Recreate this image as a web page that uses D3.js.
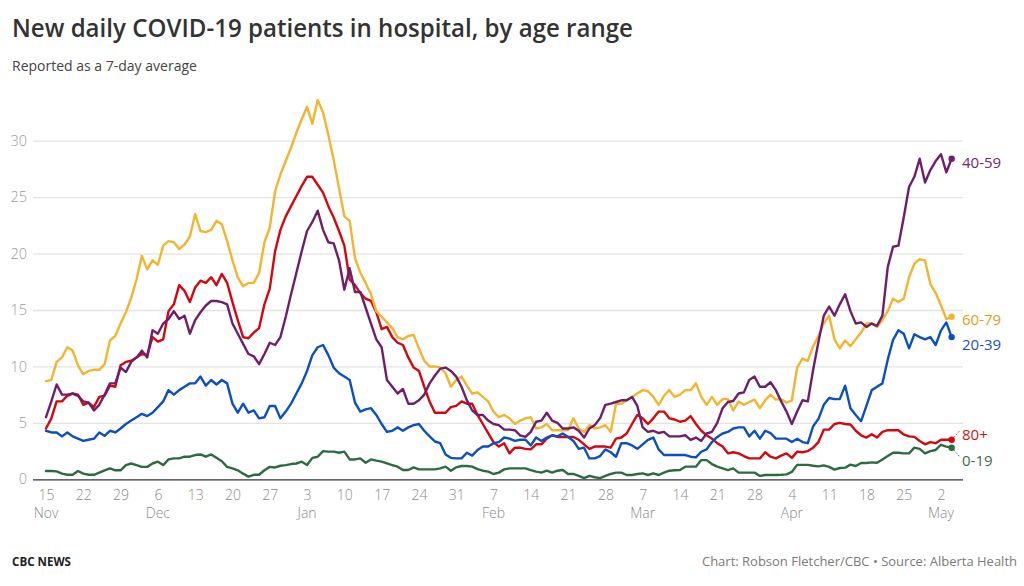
<!DOCTYPE html>
<html><head><meta charset="utf-8">
<script src="https://cdn.jsdelivr.net/npm/d3@7"></script>
<style>
body{margin:0;background:#fff;}
svg{display:block;font-family:"Open Sans",sans-serif;}
</style></head><body>
<svg id="chart" width="1024" height="586"></svg>
<script>
// ---------- DATA ----------
const startDate = "2020-11-15"; // first daily value (7-day average)
const tickLabels = ["15","22","29","6","13","20","27","3","10","17","24","31","7","14","21","28","7","14","21","28","4","11","18","25","2"];
const monthLabels = ["Nov","","","Dec","","","","Jan","","","","","Feb","","","","Mar","","","","Apr","","","","May"];
const yTicks = [0,5,10,15,20,25,30];
const seriesNames = ["0-19","80+","20-39","60-79","40-59"];

const age60_79 = [8.7,8.8,10.4,10.8,11.7,11.4,10.1,9.3,9.6,9.7,9.7,10.2,12.3,12.7,13.8,14.8,16.1,17.7,19.8,18.6,19.4,19.0,20.7,21.1,21.0,20.4,20.8,21.5,23.5,22.0,
21.9,22.1,22.9,22.6,21.1,19.4,17.9,17.1,17.4,17.4,18.3,21.0,22.3,25.5,27.0,28.2,29.4,30.7,31.9,33.0,31.5,33.6,32.5,30.5,28.3,25.8,23.3,22.9,19.6,18.3,
17.4,16.4,14.9,14.4,13.9,13.4,12.6,12.4,12.7,12.8,11.6,10.5,10.0,10.0,9.9,9.4,8.2,8.8,9.1,8.3,7.6,7.7,7.3,6.9,6.0,5.5,5.7,5.4,4.9,5.2,
5.4,5.5,4.5,4.6,4.9,4.35,4.35,4.35,4.35,5.4,4.5,4.2,4.8,4.5,4.6,4.8,4.2,6.7,6.7,7.0,7.3,7.6,7.9,7.8,7.3,6.6,7.4,7.9,7.3,7.5,
7.9,7.9,8.5,7.3,6.6,7.3,6.6,7.1,7.1,6.1,6.9,6.6,6.85,7.06,6.3,7.0,7.5,7.06,7.1,6.8,7.0,9.9,10.7,10.5,11.8,12.7,13.8,14.5,12.4,11.6,
12.3,11.8,12.4,13.0,13.8,13.8,13.5,14.1,14.9,16.0,15.7,16.0,17.9,19.1,19.5,19.4,17.3,16.5,15.4,14.2,14.4];

const age80plus = [4.5,5.4,6.9,6.9,7.4,7.6,7.5,6.6,6.8,6.4,7.3,7.4,8.3,8.2,10.1,10.4,10.5,10.8,11.1,11.0,12.6,12.2,12.4,14.9,15.5,17.2,16.7,15.7,17.0,17.6,
17.4,17.9,17.2,18.2,17.4,15.7,14.1,12.6,12.5,13.0,13.4,15.5,16.9,20.2,22.1,23.3,24.2,25.1,26.0,26.8,26.8,26.1,25.4,24.2,23.2,22.0,20.7,17.7,17.2,16.5,
16.0,15.8,14.8,13.3,13.5,12.6,12.1,11.9,10.8,9.9,9.6,8.2,6.9,5.9,5.9,5.9,6.4,6.5,6.9,6.7,6.7,5.7,4.9,4.1,3.3,2.9,3.2,2.3,2.8,2.8,
2.7,2.65,3.1,3.1,3.6,3.9,3.75,3.75,3.75,3.75,3.5,3.1,2.7,2.9,2.9,2.9,2.8,3.6,3.7,4.06,4.9,5.7,5.4,4.9,5.4,6.0,6.0,5.4,5.3,5.1,
5.2,5.6,4.9,4.3,3.9,3.6,3.2,2.9,2.3,2.4,2.3,2.06,1.85,1.85,1.85,2.4,2.0,1.85,2.1,2.3,1.9,2.45,2.4,2.5,2.8,3.3,4.4,4.4,4.9,5.0,
4.9,4.85,4.3,3.9,3.7,4.0,3.7,4.2,4.35,4.35,4.35,3.97,3.8,3.76,3.4,3.1,3.3,3.2,3.5,3.5,3.5];

const age40_59 = [5.5,6.9,8.4,7.5,7.5,7.6,7.4,6.9,6.8,6.1,6.6,7.5,8.5,8.5,9.9,9.5,10.4,10.8,11.4,10.8,13.2,12.9,13.8,14.2,14.9,14.2,14.5,12.9,14.1,14.8,
15.4,15.8,15.8,15.7,15.5,13.8,12.9,12.0,11.1,10.9,10.2,11.1,12.1,11.9,12.6,14.4,16.4,18.3,20.2,22.0,22.8,23.8,22.1,21.0,20.9,19.4,16.8,18.7,16.6,16.6,
15.2,13.8,12.4,11.7,8.8,8.2,7.6,8.0,6.7,6.7,7.0,7.5,8.5,9.2,9.8,9.9,9.6,9.1,8.2,7.0,6.1,5.7,5.7,5.2,4.9,4.8,4.4,4.4,4.35,3.9,
3.75,4.2,5.1,5.2,5.9,5.2,5.0,4.5,4.5,4.6,4.3,3.7,4.5,4.8,5.4,6.6,6.7,6.85,7.0,7.0,7.3,6.5,4.6,4.2,4.3,4.1,4.2,3.8,3.8,3.8,
3.9,3.5,3.7,3.4,4.06,4.2,5.0,6.3,6.85,6.94,7.6,7.7,8.8,9.1,8.2,8.2,8.6,7.9,6.9,6.0,4.9,6.0,7.0,6.9,9.7,12.2,14.5,15.3,14.5,15.5,
16.4,14.9,13.8,13.9,13.5,13.8,13.6,14.5,18.8,20.6,20.7,23.2,25.9,26.8,28.4,26.3,27.4,28.2,28.8,27.2,28.4];

const age20_39 = [4.3,4.15,4.15,3.8,4.15,3.8,3.6,3.4,3.5,3.6,4.15,3.85,4.3,4.15,4.5,4.9,5.2,5.5,5.8,5.6,5.9,6.4,6.9,7.9,7.5,7.9,8.2,8.5,8.5,9.1,
8.3,8.8,8.4,8.8,8.5,6.7,5.9,6.7,5.9,6.1,5.4,5.5,6.5,6.5,5.4,6.0,6.7,7.6,8.5,9.6,11.0,11.7,11.9,11.0,9.9,9.4,9.1,8.8,6.8,6.0,
6.2,6.3,5.7,4.9,4.2,4.3,4.6,4.3,4.6,4.8,4.9,4.3,3.8,3.35,3.2,2.2,1.9,1.85,1.85,2.35,2.1,2.6,2.9,2.9,3.2,3.3,3.7,3.6,3.4,3.5,
3.5,3.0,3.7,3.4,3.7,3.9,3.8,4.06,3.75,3.4,2.7,2.8,1.85,1.85,2.06,2.65,2.4,2.0,3.2,3.2,3.0,2.7,3.1,3.5,3.7,2.65,2.15,2.15,2.15,2.15,
2.15,2.0,1.94,2.44,2.65,3.3,3.75,4.06,4.2,4.5,4.6,4.6,3.8,4.3,3.6,4.3,4.1,3.6,3.6,3.6,3.3,3.6,3.3,3.2,4.7,5.35,6.6,7.2,7.1,7.1,
8.3,6.3,5.7,5.15,6.5,7.9,8.2,8.5,10.6,12.35,13.2,12.9,11.6,12.85,12.6,12.4,12.6,11.9,13.2,13.9,12.6];

const age0_19 = [0.74,0.74,0.7,0.5,0.4,0.4,0.74,0.5,0.4,0.4,0.6,0.8,0.97,0.8,0.8,1.26,1.4,1.26,1.1,1.1,1.4,1.56,1.26,1.76,1.85,1.85,2.0,2.0,2.15,2.2,
2.0,2.2,1.9,1.6,1.1,0.97,0.8,0.5,0.24,0.4,0.4,0.8,1.1,1.05,1.2,1.26,1.35,1.4,1.56,1.26,1.9,2.0,2.5,2.45,2.45,2.35,2.45,1.76,1.76,1.85,
1.47,1.76,1.65,1.56,1.41,1.26,1.12,0.82,0.82,1.06,0.88,0.88,0.88,0.88,0.97,1.12,0.76,1.06,1.18,1.18,1.12,0.91,0.76,0.68,0.47,0.59,0.88,0.97,0.97,0.97,
0.97,0.82,0.68,0.59,0.76,0.59,0.76,0.82,0.47,0.47,0.3,0.1,0.3,0.18,0.1,0.3,0.47,0.59,0.59,0.38,0.38,0.47,0.53,0.38,0.53,0.38,0.59,0.76,0.8,0.82,
1.12,1.12,1.12,1.7,1.7,1.35,1.12,0.97,0.82,0.97,0.59,0.59,0.59,0.59,0.3,0.38,0.38,0.38,0.4,0.44,0.65,1.28,1.28,1.28,1.2,1.15,1.23,1.1,0.86,1.0,
1.03,1.3,1.18,1.45,1.45,1.5,1.47,1.76,2.06,2.35,2.35,2.3,2.3,2.8,2.7,2.3,2.5,2.6,3.06,2.9,2.8];

// ---------- STYLE ----------
const lineColors = {"0-19":"#2e6a41","80+":"#d3070f","20-39":"#0b4fc0","60-79":"#f2b530","40-59":"#6f1e6c"};
const labelColors = {"0-19":"#3d6c4b","80+":"#c8161e","20-39":"#1d52b3","60-79":"#d6a216","40-59":"#6f2a6b"};
const labelY = {"0-19":461,"80+":435,"20-39":345,"60-79":320,"40-59":163};
const leader = {"80+": -1, "0-19": 1}; // direction of dotted leader from dot to label

const svg = d3.select("#chart");
const parse = d3.utcParse("%Y-%m-%d");
const d0 = parse(startDate);
const nDays = age60_79.length;
const dates = d3.range(nDays).map(i => d3.utcDay.offset(d0, i));
const tickDates = tickLabels.map((_, i) => d3.utcDay.offset(d0, 7 * i));

const x = d3.scaleUtc().domain([tickDates[0], tickDates[tickDates.length - 1]]).range([46, 941]);
const y = d3.scaleLinear().domain([0, 30]).range([479.3, 140.7]);

// grid + y labels
const gx0 = 33, gx1 = 963;
const yAxis = d3.axisLeft(y).tickValues(yTicks).tickSize(-(gx1 - gx0)).tickPadding(6).tickFormat(d3.format("d"));
const yg = svg.append("g").attr("transform", `translate(${gx0},0)`).call(yAxis);
yg.select(".domain").remove();
yg.selectAll(".tick line").attr("stroke", d => d === 0 ? "#333" : "#e3e3e3").attr("stroke-width", d => d === 0 ? 1.2 : 1.3);
yg.selectAll(".tick text").attr("fill", "#9a9a9a").style("font-size", "14.5px").style("font-weight", 300).style("font-family", '"Open Sans",sans-serif');

// x axis
const xAxis = d3.axisBottom(x).tickValues(tickDates).tickSize(0).tickPadding(11).tickFormat((d, i) => tickLabels[i]);
const xg = svg.append("g").attr("transform", `translate(0,${y(0)})`).call(xAxis);
xg.select(".domain").remove();
xg.selectAll(".tick text").attr("fill", "#8a8a8a").style("font-size", "14px").style("font-weight", 300).style("font-family", '"Open Sans",sans-serif');
svg.append("g").selectAll("text").data(tickDates.filter((d, i) => monthLabels[i]))
  .join("text")
  .attr("x", d => x(d)).attr("y", 518).attr("text-anchor", "middle")
  .attr("fill", "#8a8a8a").style("font-size", "14px").style("font-weight", 300)
  .text(d => monthLabels[tickDates.indexOf(d)]);

// lines
const seriesData = {"0-19": age0_19, "80+": age80plus, "20-39": age20_39, "60-79": age60_79, "40-59": age40_59};
const line = d3.line().x((d, i) => x(dates[i])).y(d => y(d));
const lg = svg.append("g");
seriesNames.forEach(name => {
  lg.append("path").datum(seriesData[name])
    .attr("fill", "none").attr("stroke", lineColors[name]).attr("stroke-width", 2.4)
    .attr("stroke-linejoin", "round").attr("stroke-linecap", "round")
    .attr("d", line);
});
// end dots + labels
seriesNames.forEach(name => {
  const vals = seriesData[name];
  const ex = x(dates[vals.length - 1]), ey = y(vals[vals.length - 1]);
  svg.append("circle").attr("cx", ex).attr("cy", ey).attr("r", 3.2).attr("fill", lineColors[name]);
  const ly = labelY[name];
  if (leader[name]) {
    const dir = leader[name];
    svg.append("line").attr("x1", ex + 2.5).attr("y1", ey + dir * 2.5)
      .attr("x2", 960).attr("y2", ey + dir * 9.5)
      .attr("stroke", lineColors[name]).attr("stroke-width", 1).attr("stroke-dasharray", "1.4,1.8");
  }
  svg.append("text").attr("x", 962).attr("y", ly).attr("dy", "0.35em")
    .attr("fill", labelColors[name]).style("font-size", "15px").style("font-weight", 400)
    .text(name);
});

// titles
function fit(sel, w) {
  const len = sel.node().getComputedTextLength();
  if (Math.abs(len - w) > 2) sel.attr("textLength", w).attr("lengthAdjust", "spacingAndGlyphs");
}
const title = svg.append("text").attr("x", 12).attr("y", 37).attr("fill", "#333")
  .style("font-size", "25px").style("font-weight", 600)
  .text("New daily COVID-19 patients in hospital, by age range");
fit(title, 621);
const sub = svg.append("text").attr("x", 12).attr("y", 71).attr("fill", "#444")
  .style("font-size", "14px").style("font-weight", 400)
  .text("Reported as a 7-day average");
fit(sub, 186);
const brand = svg.append("text").attr("x", 12).attr("y", 566).attr("fill", "#222")
  .style("font-size", "12px").style("font-weight", 700).text("CBC NEWS");
fit(brand, 59);
const credit = svg.append("text").attr("x", 1017).attr("y", 566).attr("text-anchor", "end").attr("fill", "#7a7a7a")
  .style("font-size", "13px").style("font-weight", 400)
  .text("Chart: Robson Fletcher/CBC • Source: Alberta Health");
</script>
</body></html>
